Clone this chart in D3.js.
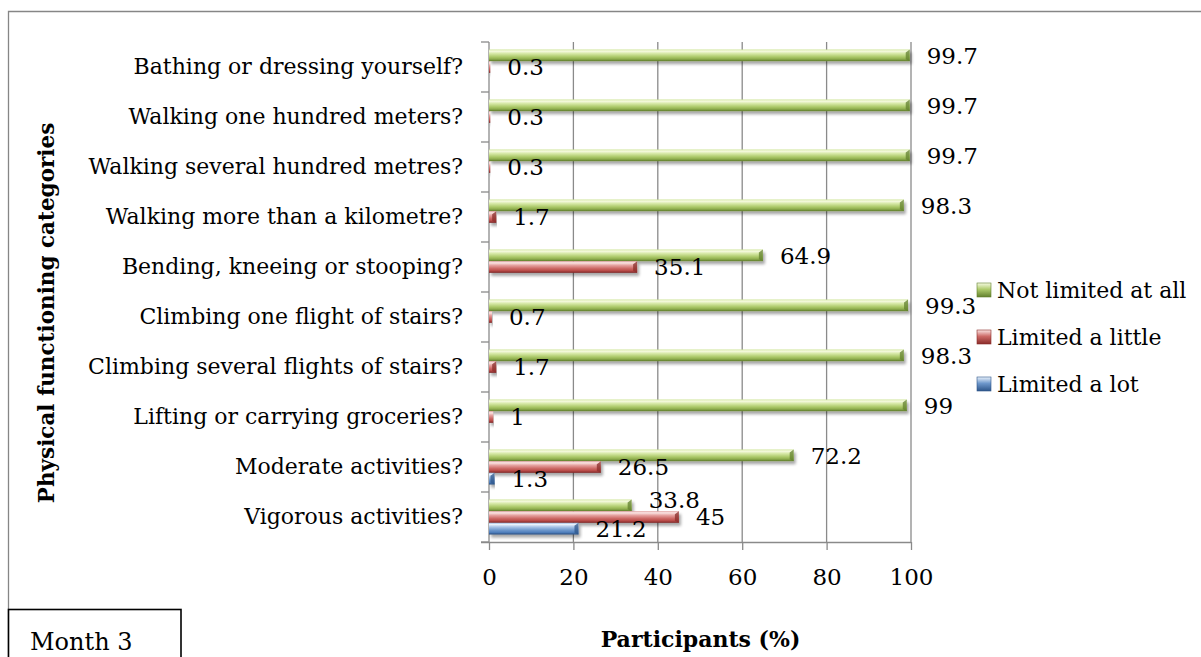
<!DOCTYPE html>
<html>
<head>
<meta charset="utf-8">
<script src="https://cdn.jsdelivr.net/npm/d3@7"></script>
<style>
  html, body { margin: 0; padding: 0; background: #fff; }
  svg { display: block; }
  text { font-family: "DejaVu Serif", "Liberation Serif", serif; fill: #000; }
</style>
</head>
<body>
<svg id="chart" width="1201" height="657"></svg>
<script>
// Physical functioning items, listed top to bottom
const categories = [
  "Bathing or dressing yourself?",
  "Walking one hundred meters?",
  "Walking several hundred metres?",
  "Walking more than a kilometre?",
  "Bending, kneeing or stooping?",
  "Climbing one flight of stairs?",
  "Climbing several flights of stairs?",
  "Lifting or carrying groceries?",
  "Moderate activities?",
  "Vigorous activities?"
];

// Percent of participants per response, same order as categories
const notLimited    = [99.7, 99.7, 99.7, 98.3, 64.9, 99.3, 98.3, 99, 72.2, 33.8];
const limitedLittle = [0.3, 0.3, 0.3, 1.7, 35.1, 0.7, 1.7, 1, 26.5, 45];
const limitedLot    = [0, 0, 0, 0, 0, 0, 0, 0, 1.3, 21.2];

const seriesNames = ["Not limited at all", "Limited a little", "Limited a lot"];
const xTicks = [0, 20, 40, 60, 80, 100];

const seriesValues = [notLimited, limitedLittle, limitedLot];
const seriesKeys = ["green", "red", "blue"];

const palette = {
  green: { stops: ["#cfe59a", "#f7fbe3", "#d6e8a6", "#aecb6c", "#8fae4e", "#5d7a28"], dark: "#62802d" },
  red:   { stops: ["#e0a09e", "#fbe6e5", "#e6a3a1", "#cd6a67", "#b84a47", "#7a2523"], dark: "#8a2c2a" },
  blue:  { stops: ["#a2bfe3", "#eaf2fb", "#a9c4e6", "#6e98cc", "#4f7fbc", "#274c7c"], dark: "#2e568a" }
};

const svg = d3.select("#chart");
const defs = svg.append("defs");

// cylinder-like shading for each series
seriesKeys.forEach(k => {
  const g = defs.append("linearGradient")
    .attr("id", "grad-" + k).attr("x1", 0).attr("y1", 0).attr("x2", 0).attr("y2", 1);
  const offs = [0, 0.14, 0.35, 0.62, 0.82, 1];
  palette[k].stops.forEach((c, i) => g.append("stop").attr("offset", offs[i]).attr("stop-color", c));
  const m = defs.append("linearGradient")
    .attr("id", "mark-" + k).attr("x1", 0).attr("y1", 0).attr("x2", 0).attr("y2", 1);
  m.append("stop").attr("offset", 0).attr("stop-color", palette[k].stops[1]);
  m.append("stop").attr("offset", 0.45).attr("stop-color", palette[k].stops[3]);
  m.append("stop").attr("offset", 1).attr("stop-color", palette[k].dark);
});

const shadow = defs.append("filter").attr("id", "shadow")
  .attr("x", "-5%").attr("y", "-50%").attr("width", "110%").attr("height", "220%");
shadow.append("feGaussianBlur").attr("in", "SourceAlpha").attr("stdDeviation", 1.6).attr("result", "b");
shadow.append("feOffset").attr("in", "b").attr("dx", 2).attr("dy", 3).attr("result", "o");
shadow.append("feComponentTransfer").attr("in", "o").attr("result", "s")
  .append("feFuncA").attr("type", "linear").attr("slope", 0.35);
const merge = shadow.append("feMerge");
merge.append("feMergeNode").attr("in", "s");
merge.append("feMergeNode").attr("in", "SourceGraphic");

// frame around the whole chart
svg.append("path")
  .attr("d", "M8.5,657 L8.5,11.5 L1201,11.5")
  .attr("fill", "none").attr("stroke", "#868686").attr("stroke-width", 1.3);

const plot = { left: 489, right: 911, top: 42, bottom: 542 };

const x = d3.scaleLinear().domain([0, 100]).range([plot.left, plot.right]);
const y = d3.scaleBand().domain(categories).range([plot.top, plot.bottom]).paddingInner(0).paddingOuter(0);
const ySub = d3.scaleBand().domain(seriesKeys).range([0, y.bandwidth()]).paddingInner(0).paddingOuter(0.64);

const gridColor = "#8a8a8a";

// vertical gridlines
svg.append("g").selectAll("line")
  .data(xTicks.filter(t => t > 0))
  .join("line")
  .attr("x1", d => x(d)).attr("x2", d => x(d))
  .attr("y1", plot.top).attr("y2", plot.bottom)
  .attr("stroke", gridColor).attr("stroke-width", 1.3);

// x axis
const xAxis = svg.append("g")
  .attr("transform", `translate(0,${plot.bottom})`)
  .call(d3.axisBottom(x).tickValues(xTicks).tickSize(8).tickPadding(19).tickSizeOuter(0));
xAxis.select(".domain").attr("stroke", gridColor).attr("stroke-width", 1.3)
  .attr("d", `M${plot.left - 8},0.5H${plot.right}`);
xAxis.selectAll(".tick line").attr("stroke", gridColor).attr("stroke-width", 1.3);
xAxis.selectAll(".tick text")
  .style("font-family", "DejaVu Serif").style("font-size", "23px").attr("fill", "#000");

// y axis
const yAxis = svg.append("g")
  .attr("transform", `translate(${plot.left},0)`)
  .call(d3.axisLeft(y).tickSize(0).tickPadding(26).tickSizeOuter(0));
yAxis.select(".domain").attr("stroke", gridColor).attr("stroke-width", 1.3)
  .attr("d", `M0,${plot.top}V${plot.bottom}`);
yAxis.selectAll(".tick text")
  .style("font-family", "DejaVu Serif").style("font-size", "22px").attr("fill", "#000")
  .attr("dy", "0.3em");
// category separators on the y axis
svg.append("g").selectAll("line")
  .data(categories.map(c => y(c)).concat([plot.bottom]))
  .join("line")
  .attr("x1", plot.left - 8).attr("x2", plot.left)
  .attr("y1", d => d).attr("y2", d => d)
  .attr("stroke", gridColor).attr("stroke-width", 1.3);

// bars
const rows = [];
categories.forEach((c, ci) => {
  seriesKeys.forEach((k, si) => {
    rows.push({ cat: c, key: k, value: seriesValues[si][ci] });
  });
});

const barG = svg.append("g");
const bars = barG.selectAll("g.bar")
  .data(rows.filter(d => d.value > 0))
  .join("g").attr("class", "bar");

bars.append("rect")
  .attr("x", x(0))
  .attr("y", d => y(d.cat) + ySub(d.key))
  .attr("width", d => Math.max(1.2, x(d.value) - x(0)))
  .attr("height", ySub.bandwidth())
  .attr("fill", d => `url(#grad-${d.key})`)
  .attr("filter", "url(#shadow)");

// bevelled end of each bar
bars.filter(d => x(d.value) - x(0) > 5).append("path")
  .attr("d", d => {
    const x1 = x(d.value), y0 = y(d.cat) + ySub(d.key), h = ySub.bandwidth();
    return `M${x1 - 4},${y0 + 3}L${x1},${y0}L${x1},${y0 + h}L${x1 - 4},${y0 + h - 2}Z`;
  })
  .attr("fill", d => palette[d.key].dark).attr("opacity", 0.75);

// value labels
const nudge = { "Vigorous activities?|green": -6 };
svg.append("g").selectAll("text")
  .data(rows.filter(d => d.value > 0))
  .join("text")
  .attr("x", d => x(d.value) + 17)
  .attr("y", d => y(d.cat) + ySub(d.key) + ySub.bandwidth() / 2 + (nudge[d.cat + "|" + d.key] || 0))
  .attr("dy", "0.36em")
  .style("font-size", "23px")
  .text(d => d.value);

// axis titles
svg.append("text")
  .attr("x", (plot.left + plot.right) / 2 + 0.5).attr("y", 647)
  .attr("text-anchor", "middle")
  .style("font-size", "22px").style("font-weight", "bold")
  .text("Participants (%)");

svg.append("text")
  .attr("transform", `translate(54,313) rotate(-90)`)
  .attr("text-anchor", "middle")
  .style("font-size", "21.5px").style("font-weight", "bold")
  .text("Physical functioning categories");

// legend
const legend = svg.append("g").attr("transform", "translate(977,0)");
const legendItems = legend.selectAll("g")
  .data(seriesNames.map((n, i) => ({ name: n, key: seriesKeys[i] })))
  .join("g")
  .attr("transform", (d, i) => `translate(0,${298 + i * 47})`);
legendItems.append("rect")
  .attr("x", 0).attr("y", -15).attr("width", 14).attr("height", 14)
  .attr("fill", d => `url(#mark-${d.key})`)
  .attr("stroke", d => palette[d.key].dark).attr("stroke-width", 0.6);
legendItems.append("text")
  .attr("x", 20).attr("y", 0)
  .style("font-size", "22px")
  .text(d => d.name);

// period box
svg.append("rect")
  .attr("x", 8.5).attr("y", 609.5).attr("width", 172.5).attr("height", 60)
  .attr("fill", "#fff").attr("stroke", "#000").attr("stroke-width", 1.6);
svg.append("text")
  .attr("x", 30).attr("y", 650)
  .style("font-size", "24px")
  .text("Month 3");
</script>
</body>
</html>
